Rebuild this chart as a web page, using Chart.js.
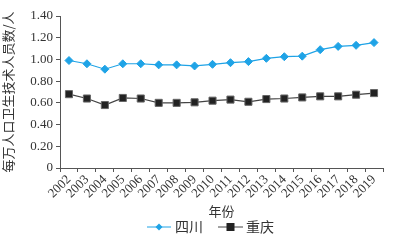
<!DOCTYPE html>
<html><head><meta charset="utf-8">
<script src="https://cdn.jsdelivr.net/npm/chart.js@4/dist/chart.umd.min.js"></script>
<style>html,body{margin:0;padding:0;background:#fff}#wrap{width:397px;height:241px}</style>
</head><body><div id="wrap"><canvas id="c" width="397" height="241"></canvas></div>
<script>
const years = ["2002","2003","2004","2005","2006","2007","2008","2009","2010","2011","2012","2013","2014","2015","2016","2017","2018","2019"];
const sichuan = [0.99,0.96,0.91,0.96,0.96,0.95,0.95,0.94,0.955,0.97,0.98,1.01,1.025,1.03,1.09,1.12,1.13,1.155];
const chongqing = [0.68,0.64,0.58,0.645,0.64,0.60,0.60,0.605,0.62,0.63,0.61,0.635,0.64,0.65,0.66,0.66,0.675,0.69];
const yTicks = [0,0.2,0.4,0.6,0.8,1.0,1.2,1.4];
const seriesNames = ["四川","重庆"];

const serif = "'Liberation Serif','Noto Sans CJK SC',serif";
const legendPlugin = {
  id:'lineLegend',
  afterDraw(chart){
    const ctx = chart.ctx;
    const y = 227;
    const items = [{x0:147,x1:171,tx:175},{x0:218,x1:243,tx:246}];
    chart.data.datasets.forEach((ds,i)=>{
      const it = items[i];
      ctx.save();
      ctx.strokeStyle = ds.borderColor; ctx.lineWidth = 1;
      ctx.beginPath(); ctx.moveTo(it.x0,y); ctx.lineTo(it.x1,y); ctx.stroke();
      const mx=(it.x0+it.x1)/2;
      ctx.fillStyle = ds.pointBackgroundColor;
      if(ds.pointStyle==='rectRot'){
        ctx.beginPath(); ctx.moveTo(mx,y-3.5); ctx.lineTo(mx+3.5,y); ctx.lineTo(mx,y+3.5); ctx.lineTo(mx-3.5,y); ctx.closePath(); ctx.fill();
      } else {
        ctx.fillRect(mx-4,y-4,8,8);
      }
      ctx.fillStyle='#333'; ctx.font = "14px 'Noto Sans CJK SC'"; ctx.textBaseline='middle'; ctx.textAlign='left';
      ctx.fillText(ds.label,it.tx,y);
      ctx.restore();
    });
  }
};

new Chart(document.getElementById('c'),{
  type:'line',
  data:{labels:years,datasets:[
    {label:seriesNames[0],data:sichuan,borderColor:'#1fa3e6',backgroundColor:'#1fa3e6',pointBackgroundColor:'#1fa3e6',pointBorderColor:'#1fa3e6',pointStyle:'rectRot',pointRadius:4,pointBorderWidth:1,borderWidth:1.2,tension:0},
    {label:seriesNames[1],data:chongqing,borderColor:'#444',backgroundColor:'#222',pointBackgroundColor:'#222',pointBorderColor:'#666',pointStyle:'rect',pointRadius:5,pointBorderWidth:1,borderWidth:1.2,tension:0}
  ]},
  options:{
    responsive:false,animation:false,
    layout:{padding:{left:0,right:14,top:16,bottom:22}},
    plugins:{legend:{display:false},tooltip:{enabled:false}},
    scales:{
      x:{offset:true,
        grid:{display:true,drawOnChartArea:false,offset:true,tickLength:4,color:'#555'},
        border:{color:'#555',width:1},
        ticks:{color:'#333',font:{family:serif,size:13},minRotation:45,maxRotation:45,padding:0,autoSkip:false},
        title:{display:true,text:'年份',color:'#333',font:{family:"'Noto Sans CJK SC'",size:13},padding:{top:0,bottom:0}},
        afterFit(s){s.height=51;}
      },
      y:{min:0,max:1.4,
        afterBuildTicks(s){s.ticks=yTicks.map(v=>({value:v}));},
        grid:{display:true,drawOnChartArea:false,tickLength:4,color:'#555'},
        border:{color:'#555',width:1},
        ticks:{color:'#333',font:{family:serif,size:13},padding:3,callback:v=>v===0?'0':v.toFixed(2)},
        title:{display:true,text:'每万人口卫生技术人员数/人',color:'#333',font:{family:"'Noto Sans CJK SC'",size:13},padding:{top:0,bottom:2}},
        afterFit(s){s.width=60;}
      }
    }
  },
  plugins:[legendPlugin]
});
</script></body></html>
